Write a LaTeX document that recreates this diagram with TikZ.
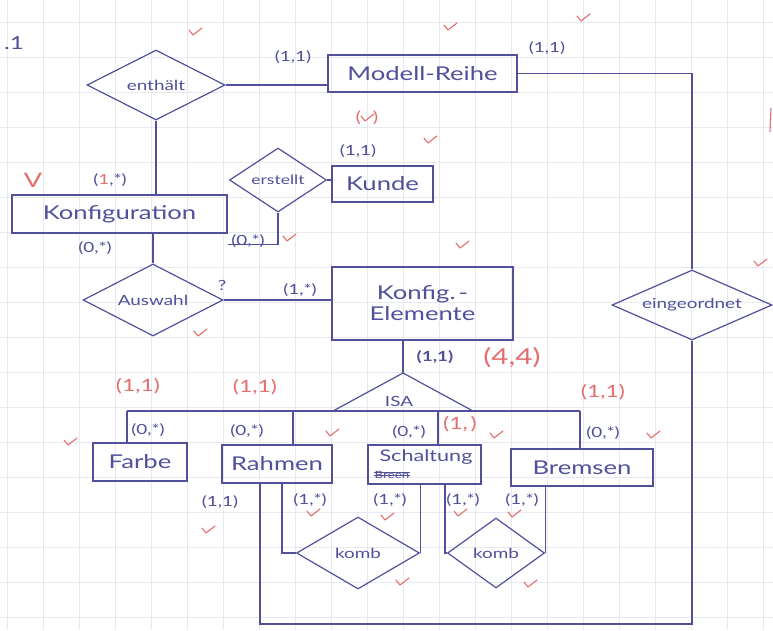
\documentclass[tikz,border=0pt]{standalone}
\usepackage{fontspec}
\setmainfont[FakeStretch=1.35]{Lato}
\usetikzlibrary{shapes.geometric,calc}
\definecolor{ink}{RGB}{80,80,155}
\definecolor{rink}{RGB}{228,110,110}
\definecolor{gridc}{RGB}{232,232,241}
\begin{document}
\begin{tikzpicture}[x=1pt,y=-1pt,
  ent/.style={draw=ink, line width=1.2pt, text=ink, font=\fontsize{19}{21}\selectfont, inner sep=0pt},
  rel/.style={diamond, draw=ink, line width=1.2pt, text=ink, font=\fontsize{14}{16}\selectfont, inner sep=0pt, aspect=2},
  card/.style={text=ink, font=\fontsize{14}{16}\selectfont, inner sep=1pt},
  rcard/.style={text=rink, font=\fontsize{17}{19}\selectfont, inner sep=1pt},
  con/.style={draw=ink, line width=1.2pt},
  chk/.pic={\draw[rink, line width=1.1pt, line cap=round, line join=round] (-6,-2) -- (-2,3) -- (7,-4);}
]
\useasboundingbox (0,0) rectangle (773,630);
\fill[white] (0,0) rectangle (773,630);
\foreach \x in {7,43,...,763} \draw[gridc, line width=0.8pt] (\x,0) -- (\x,630);
\foreach \y in {22,57,...,625} \draw[gridc, line width=0.8pt] (0,\y) -- (773,\y);

% entities
\node[ent, minimum width=189pt, minimum height=37pt] (modell) at (422.5,73.5) {Modell-Reihe};
\node[ent, minimum width=215pt, minimum height=38pt] (konf) at (119.5,214) {Konfiguration};
\node[ent, minimum width=101pt, minimum height=36pt] (kunde) at (382.5,184) {Kunde};
\node[ent, minimum width=181pt, minimum height=73pt, align=center] (konfel) at (422.5,303.5) {Konfig.\,-\\Elemente};
\node[ent, minimum width=94pt, minimum height=38pt] (farbe) at (140,462) {Farbe};
\node[ent, minimum width=110pt, minimum height=38pt] (rahmen) at (277,464) {Rahmen};
\node[ent, minimum width=113pt, minimum height=39pt, anchor=center] (schalt) at (424.5,464.5) {};
\node[text=ink, font=\fontsize{16}{18}\selectfont, inner sep=0pt] (schalttxt) at (426,457) {Schaltung};
\node[text=ink, font=\fontsize{10}{11}\selectfont, inner sep=0pt] (strk) at (392,475) {Breen};
\draw[ink, line width=1pt] (strk.west) -- (strk.east);
\draw[ink, line width=1pt] ([yshift=2.5pt]strk.west) -- ([yshift=2.5pt]strk.east);
\node[ent, minimum width=142pt, minimum height=37pt] (bremsen) at (582,467.5) {Bremsen};

% relationships
\node[rel, minimum width=138pt, minimum height=70pt] (enth) at (156,85) {enthält};
\node[rel, minimum width=97pt, minimum height=64pt, font=\fontsize{13}{15}\selectfont] (erst) at (278,180) {erstellt};
\node[rel, minimum width=140pt, minimum height=72pt] (ausw) at (153,300) {Auswahl};
\node[rel, minimum width=160pt, minimum height=70pt] (eing) at (692,305) {eingeordnet};
\node[rel, minimum width=123pt, minimum height=72pt] (komb1) at (358,553) {komb};
\node[rel, minimum width=97pt, minimum height=70pt] (komb2) at (496,553) {komb};

% ISA triangle
\coordinate (isatop) at (403,373);
\coordinate (isaL) at (127,411);
\coordinate (isaR) at (580,411);
\coordinate (isaBL) at (333,411);
\coordinate (isaBR) at (473,411);
\draw[con, line join=round] (isaBL) -- (isatop) -- (isaBR);
\node[text=ink, font=\fontsize{14}{16}\selectfont] (isa) at (399,401) {ISA};
\coordinate (rdrop) at (293,411);
\coordinate (sdrop) at (438,411);
\coordinate (rb) at (260,624);

% connectors
\draw[con] (enth.east) -- (enth.east -| modell.west);
\draw[con] (enth.south) -- (enth.south |- konf.north);
\draw[con] ([yshift=-11pt]konf.south east) -| (erst.south);
\draw[con] (erst.east) -- (erst.east -| kunde.west);
\draw[con] (ausw.north |- konf.south) -- (ausw.north);
\draw[con] (ausw.east) -- (ausw.east -| konfel.west);
\draw[con] (isatop |- konfel.south) -- (isatop);
\draw[con] (isaL) -- (isaR);
\draw[con] (isaL) -- (isaL |- farbe.north);
\draw[con] (rdrop) -- (rdrop |- rahmen.north);
\draw[con] (sdrop) -- (sdrop |- schalt.north);
\draw[con] (isaR) -- (isaR |- bremsen.north);
\draw[con] (modell.east) -| (eing.north);
\draw[con] (rb |- rahmen.south) -- (rb) -| (eing.south);
\draw[con] ([xshift=5pt]rahmen.south) |- (komb1.west);
\draw[con] (komb1.east) -- (komb1.east |- schalt.south);
\draw[con] ([xshift=20.5pt]schalt.south) |- (komb2.west);
\draw[con] (komb2.east) -- (komb2.east |- bremsen.south);

% blue cardinalities
\node[card, font=\fontsize{18}{20}\selectfont] (num) at (14,43) {.1};
\node[card] (c1) at (293,57) {(1,1)};
\node[card] (c2) at (547,48) {(1,1)};
\node[card] (c3) at (358,151) {(1,1)};
\node[card] (c4) at (110,180) {(\textcolor{rink}{1},*)};
\node[card] (c5) at (95,248) {(0,*)};
\node[card] (c6) at (248,241) {(0,*)};
\node[card] (c7) at (222,285) {?};
\node[card] (c8) at (300,290) {(1,*)};
\node[card, font=\bfseries\fontsize{14}{16}\selectfont] (c9) at (435,357) {(1,1)};
\node[card] (c10) at (148,430) {(0,*)};
\node[card] (c11) at (247,431) {(0,*)};
\node[card] (c12) at (409,432) {(0,*)};
\node[card] (c13) at (603,433) {(0,*)};
\node[card] (c14) at (220,502) {(1,1)};
\node[card] (c15) at (310,500) {(1,*)};
\node[card] (c16) at (390,500) {(1,*)};
\node[card] (c17) at (463,500) {(1,*)};
\node[card] (c18) at (522,500) {(1,*)};

% red annotations
\node[rcard, font=\fontsize{22}{24}\selectfont] (r1) at (512,358) {(4,4)};
\node[rcard] (r2) at (138,386) {(1,1)};
\node[rcard] (r3) at (255,387) {(1,1)};
\node[rcard] (r4) at (603,392) {(1,1)};
\node[rcard] (r5) at (460,424) {(1,\,)};
\node[rcard, font=\fontsize{15}{17}\selectfont] (r6) at (367,118) {(\hspace{12pt})};
\node[rcard, font=\fontsize{20}{22}\selectfont] (r7) at (33,180) {V};
\draw[rink, line width=1.1pt] (771,108) -- (770,132);

% checks
\foreach \p in {(195,32),(450,27),(583,18),(430,140),(367,118),(289,238),(462,245),(200,333),(760,263),(70,442),(332,433),(496,435),(653,435),(208,530),(313,513),(387,517),(460,513),(514,514),(402,582),(530,584)}
  \pic at \p {chk};
\end{tikzpicture}
\end{document}
